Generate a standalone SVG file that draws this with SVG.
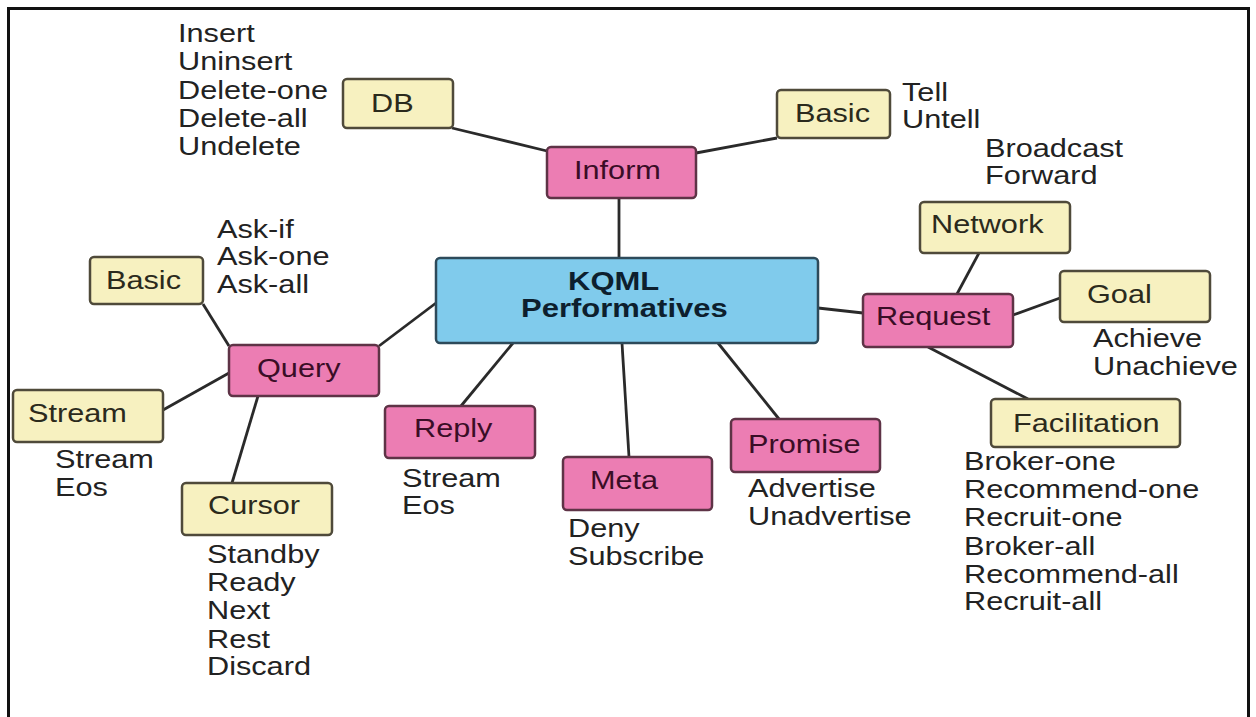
<svg xmlns="http://www.w3.org/2000/svg" width="1256" height="717" viewBox="0 0 1256 717">
<style>
  text { font-family: "Liberation Sans", Arial, sans-serif; font-size: 26px; fill: #222; }
  .lbl-y { fill: #2b2a1c; }
  .lbl-p { fill: #3a0d26; }
  .lbl-b { fill: #0d1f2e; font-weight: bold; font-size: 25px; }
  .yb { fill: #f7f1c0; stroke: #4f4a3a; stroke-width: 2.5; }
  .pb { fill: #ec7db3; stroke: #5e3346; stroke-width: 2.5; }
  .bb { fill: #80cbec; stroke: #2d4a5a; stroke-width: 2.5; }
  .conn line { stroke: #2a2a2a; stroke-width: 2.8; }
</style>
<rect x="0" y="0" width="1256" height="717" fill="#ffffff"/>
<rect x="8.5" y="8.5" width="1240" height="730" fill="none" stroke="#111" stroke-width="3"/>

<g id="connectors" class="conn">
  <line x1="452" y1="128" x2="547" y2="151"/>
  <line x1="696" y1="153" x2="777" y2="138"/>
  <line x1="619" y1="198" x2="619" y2="258"/>
  <line x1="379" y1="346" x2="436" y2="303"/>
  <line x1="203" y1="304" x2="229" y2="346"/>
  <line x1="163" y1="410" x2="229" y2="373"/>
  <line x1="258" y1="396" x2="232" y2="483"/>
  <line x1="513" y1="343" x2="461" y2="406"/>
  <line x1="622" y1="343" x2="629" y2="457"/>
  <line x1="718" y1="343" x2="779" y2="419"/>
  <line x1="818" y1="308" x2="863" y2="313"/>
  <line x1="957" y1="294" x2="979" y2="253"/>
  <line x1="1013" y1="315" x2="1060" y2="298"/>
  <line x1="928" y1="347" x2="1028" y2="399"/>
</g>

<g id="kqml">
  <rect class="bb" x="436" y="258" width="382" height="85" rx="4"/>
  <text class="lbl-b" transform="translate(568 290) scale(1.24 1)">KQML</text>
  <text class="lbl-b" transform="translate(521 317) scale(1.24 1)">Performatives</text>
</g>

<g id="inform">
  <rect class="pb" x="547" y="147" width="149" height="51" rx="4"/>
  <text class="lbl-p" transform="translate(574 179) scale(1.18 1)">Inform</text>
</g>

<g id="db">
  <rect class="yb" x="343" y="79" width="110" height="49" rx="4"/>
  <text class="lbl-y" transform="translate(371 112) scale(1.18 1)">DB</text>
  <text transform="translate(178 42) scale(1.18 1)"><tspan x="0">Insert</tspan><tspan x="0" dy="28.5">Uninsert</tspan><tspan x="0" dy="28.5">Delete-one</tspan><tspan x="0" dy="28.5">Delete-all</tspan><tspan x="0" dy="28">Undelete</tspan></text>
</g>

<g id="basic-inform">
  <rect class="yb" x="777" y="90" width="113" height="48" rx="4"/>
  <text class="lbl-y" transform="translate(795 122) scale(1.18 1)">Basic</text>
  <text transform="translate(902 101) scale(1.18 1)"><tspan x="0">Tell</tspan><tspan x="0" dy="27.5">Untell</tspan></text>
</g>

<g id="request">
  <rect class="pb" x="863" y="294" width="150" height="53" rx="4"/>
  <text class="lbl-p" transform="translate(876 325) scale(1.18 1)">Request</text>
</g>

<g id="network">
  <rect class="yb" x="920" y="202" width="150" height="51" rx="4"/>
  <text class="lbl-y" transform="translate(931 233) scale(1.18 1)">Network</text>
  <text transform="translate(985 157) scale(1.18 1)"><tspan x="0">Broadcast</tspan><tspan x="0" dy="27.5">Forward</tspan></text>
</g>

<g id="goal">
  <rect class="yb" x="1060" y="271" width="150" height="51" rx="4"/>
  <text class="lbl-y" transform="translate(1087 303) scale(1.18 1)">Goal</text>
  <text transform="translate(1093 347) scale(1.18 1)"><tspan x="0">Achieve</tspan><tspan x="0" dy="28">Unachieve</tspan></text>
</g>

<g id="facilitation">
  <rect class="yb" x="991" y="399" width="189" height="48" rx="4"/>
  <text class="lbl-y" transform="translate(1013 432) scale(1.18 1)">Facilitation</text>
  <text transform="translate(964 470) scale(1.18 1)"><tspan x="0">Broker-one</tspan><tspan x="0" dy="28.2">Recommend-one</tspan><tspan x="0" dy="28.2">Recruit-one</tspan><tspan x="0" dy="28.2">Broker-all</tspan><tspan x="0" dy="28.2">Recommend-all</tspan><tspan x="0" dy="27">Recruit-all</tspan></text>
</g>

<g id="query">
  <rect class="pb" x="229" y="345" width="150" height="51" rx="4"/>
  <text class="lbl-p" transform="translate(257 377) scale(1.18 1)">Query</text>
</g>

<g id="basic-query">
  <rect class="yb" x="90" y="257" width="113" height="47" rx="4"/>
  <text class="lbl-y" transform="translate(106 289) scale(1.18 1)">Basic</text>
  <text transform="translate(217 238) scale(1.18 1)"><tspan x="0">Ask-if</tspan><tspan x="0" dy="27.5">Ask-one</tspan><tspan x="0" dy="27.5">Ask-all</tspan></text>
</g>

<g id="stream">
  <rect class="yb" x="13" y="390" width="150" height="52" rx="4"/>
  <text class="lbl-y" transform="translate(28 422) scale(1.18 1)">Stream</text>
  <text transform="translate(55 468) scale(1.18 1)"><tspan x="0">Stream</tspan><tspan x="0" dy="28">Eos</tspan></text>
</g>

<g id="cursor">
  <rect class="yb" x="182" y="483" width="150" height="52" rx="4"/>
  <text class="lbl-y" transform="translate(208 514) scale(1.18 1)">Cursor</text>
  <text transform="translate(207 563) scale(1.18 1)"><tspan x="0">Standby</tspan><tspan x="0" dy="28.2">Ready</tspan><tspan x="0" dy="28.2">Next</tspan><tspan x="0" dy="28.2">Rest</tspan><tspan x="0" dy="27.5">Discard</tspan></text>
</g>

<g id="reply">
  <rect class="pb" x="385" y="406" width="150" height="52" rx="4"/>
  <text class="lbl-p" transform="translate(414 437) scale(1.18 1)">Reply</text>
  <text transform="translate(402 487) scale(1.18 1)"><tspan x="0">Stream</tspan><tspan x="0" dy="27">Eos</tspan></text>
</g>

<g id="meta">
  <rect class="pb" x="563" y="457" width="149" height="53" rx="4"/>
  <text class="lbl-p" transform="translate(590 489) scale(1.18 1)">Meta</text>
  <text transform="translate(568 537) scale(1.18 1)"><tspan x="0">Deny</tspan><tspan x="0" dy="28">Subscribe</tspan></text>
</g>

<g id="promise">
  <rect class="pb" x="731" y="419" width="149" height="53" rx="4"/>
  <text class="lbl-p" transform="translate(748 453) scale(1.18 1)">Promise</text>
  <text transform="translate(748 497) scale(1.18 1)"><tspan x="0">Advertise</tspan><tspan x="0" dy="28">Unadvertise</tspan></text>
</g>
</svg>
